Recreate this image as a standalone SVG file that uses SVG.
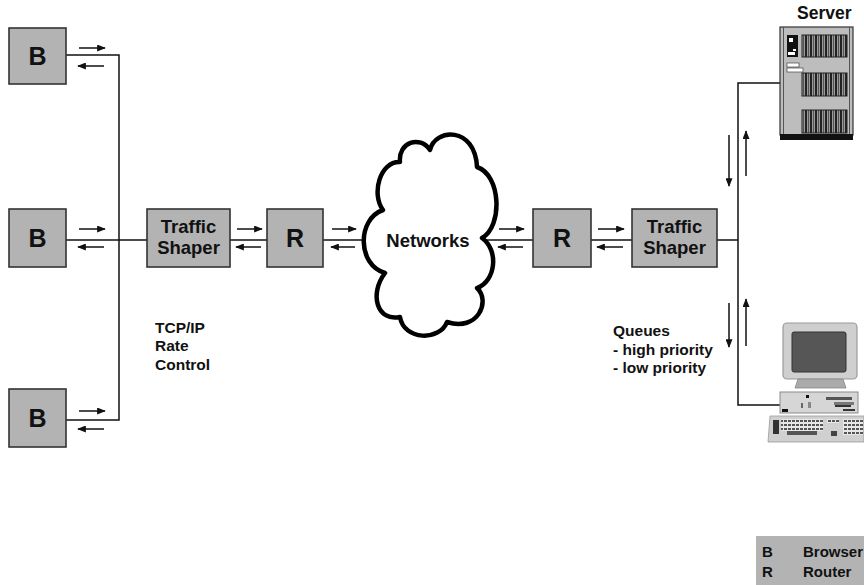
<svg xmlns="http://www.w3.org/2000/svg" width="864" height="585" viewBox="0 0 864 585">
  <style>
    .box { fill: #b3b3b3; stroke: #333; stroke-width: 1.6; }
    .wire { fill: none; stroke: #111; stroke-width: 1.5; }
    .arr { fill: none; stroke: #111; stroke-width: 1.5; marker-end: url(#head); }
    .lbl { font-family: "Liberation Sans", Arial, Helvetica, sans-serif; font-weight: bold; fill: #111; }
    .big { font-size: 25px; text-anchor: middle; }
    .mid { font-size: 18.5px; text-anchor: middle; }
    .small { font-size: 15.5px; }
    .cloud { fill: #fff; stroke: #000; stroke-width: 4.5; stroke-linejoin: round; }
  </style>
  <defs>
    <marker id="head" viewBox="0 0 10 8" refX="9" refY="4" markerWidth="10" markerHeight="7" markerUnits="userSpaceOnUse" orient="auto">
      <path d="M0,0 L10,4 L0,8 Z" fill="#111"/>
    </marker>
    <!-- striped vent grill used on the server cabinet -->
    <pattern id="grill" width="5" height="10" patternUnits="userSpaceOnUse">
      <rect width="5" height="10" fill="#9a9a9a"/>
      <rect x="0" width="2" height="10" fill="#222"/>
      <rect x="3" width="1" height="10" fill="#555"/>
    </pattern>
    <pattern id="keys" width="4" height="4" patternUnits="userSpaceOnUse">
      <rect width="4" height="4" fill="#e8e8e8"/>
      <rect x="0" y="0" width="3" height="2" fill="#555"/>
    </pattern>
  </defs>

  <!-- connectors -->
  <g id="connectors">
    <!-- browser bus -->
    <polyline class="wire" points="66,55 119,55 119,420 66,420"/>
    <line class="wire" x1="66" y1="240" x2="147" y2="240"/>
    <line class="wire" x1="230" y1="240" x2="267" y2="240"/>
    <line class="wire" x1="323" y1="240" x2="365" y2="240"/>
    <line class="wire" x1="481" y1="240" x2="533" y2="240"/>
    <line class="wire" x1="591" y1="240" x2="632" y2="240"/>
    <line class="wire" x1="717" y1="240" x2="738" y2="240"/>
    <!-- server / client bus -->
    <polyline class="wire" points="780,83 738,83 738,405 780,405"/>

    <!-- direction arrows -->
    <line class="arr" x1="79" y1="48" x2="105" y2="48"/>
    <line class="arr" x1="104" y1="66" x2="78" y2="66"/>
    <line class="arr" x1="79" y1="229" x2="105" y2="229"/>
    <line class="arr" x1="104" y1="247" x2="78" y2="247"/>
    <line class="arr" x1="79" y1="411" x2="105" y2="411"/>
    <line class="arr" x1="104" y1="429" x2="78" y2="429"/>

    <line class="arr" x1="237" y1="229" x2="262" y2="229"/>
    <line class="arr" x1="261" y1="247" x2="236" y2="247"/>
    <line class="arr" x1="332" y1="229" x2="356" y2="229"/>
    <line class="arr" x1="355" y1="247" x2="331" y2="247"/>

    <line class="arr" x1="499" y1="229" x2="524" y2="229"/>
    <line class="arr" x1="523" y1="247" x2="498" y2="247"/>
    <line class="arr" x1="598" y1="229" x2="624" y2="229"/>
    <line class="arr" x1="623" y1="247" x2="597" y2="247"/>

    <line class="arr" x1="729" y1="135" x2="729" y2="186"/>
    <line class="arr" x1="746" y1="176" x2="746" y2="131"/>
    <line class="arr" x1="729" y1="303" x2="729" y2="347"/>
    <line class="arr" x1="746" y1="346" x2="746" y2="299"/>
  </g>

  <!-- browsers -->
  <g id="browser-top">
    <rect class="box" x="9" y="28" width="57" height="56"/>
    <text class="lbl big" x="37.5" y="65">B</text>
  </g>
  <g id="browser-mid">
    <rect class="box" x="9" y="209" width="57" height="58"/>
    <text class="lbl big" x="37.5" y="247">B</text>
  </g>
  <g id="browser-bottom">
    <rect class="box" x="9" y="389" width="57" height="58"/>
    <text class="lbl big" x="37.5" y="427">B</text>
  </g>

  <!-- shapers and routers -->
  <g id="shaper-left">
    <rect class="box" x="147" y="209" width="83" height="58"/>
    <text class="lbl mid" x="188.5" y="233">Traffic</text>
    <text class="lbl mid" x="188.5" y="254">Shaper</text>
  </g>
  <g id="router-left">
    <rect class="box" x="267" y="209" width="56" height="58"/>
    <text class="lbl big" x="295" y="247">R</text>
  </g>

  <g id="networks">
    <path class="cloud" d="M400,162 C398,142 420,135 430,150 C435,128 475,126 477,167 C501,175 503,226 482,238 C499,250 496,281 477,288 C491,301 478,332 447,322 C440,341 404,341 400,317 C377,322 369,294 385,273 C357,265 357,219 383,210 C371,194 380,161 400,162 Z"/>
    <text class="lbl mid" x="428" y="247">Networks</text>
  </g>

  <g id="router-right">
    <rect class="box" x="533" y="209" width="58" height="58"/>
    <text class="lbl big" x="562" y="247">R</text>
  </g>
  <g id="shaper-right">
    <rect class="box" x="632" y="209" width="85" height="58"/>
    <text class="lbl mid" x="674.5" y="233">Traffic</text>
    <text class="lbl mid" x="674.5" y="254">Shaper</text>
  </g>

  <!-- server cabinet -->
  <g id="server">
    <text class="lbl" x="797" y="19" font-size="17.5">Server</text>
    <rect x="780" y="27" width="73" height="108" fill="#bdbdbd" stroke="#333" stroke-width="1.2"/>
    <line x1="783.5" y1="27" x2="783.5" y2="135" stroke="#555" stroke-width="1"/>
    <line x1="849.5" y1="27" x2="849.5" y2="135" stroke="#555" stroke-width="1"/>
    <rect x="780" y="134" width="73" height="6" fill="#111"/>
    <rect x="787" y="35" width="11" height="22" fill="#111"/>
    <rect x="789" y="38" width="4" height="4" fill="#fff"/>
    <rect x="793" y="49" width="3" height="2" fill="#fff"/>
    <rect x="788" y="52" width="7" height="3" fill="#fff"/>
    <rect x="787" y="63" width="12" height="4" fill="#fff" stroke="#444" stroke-width="0.7"/>
    <rect x="787" y="68" width="16" height="4" fill="#fff" stroke="#444" stroke-width="0.7"/>
    <rect x="802" y="35" width="45" height="22" fill="url(#grill)" stroke="#222" stroke-width="1"/>
    <rect x="802" y="73" width="45" height="23" fill="url(#grill)" stroke="#222" stroke-width="1"/>
    <rect x="802" y="110" width="45" height="23" fill="url(#grill)" stroke="#222" stroke-width="1"/>
  </g>

  <!-- desktop client -->
  <g id="client">
    <rect x="783" y="323" width="74" height="56" rx="4" fill="#cfcfcf" stroke="#9a9a9a" stroke-width="1.2"/>
    <rect x="792" y="332" width="54" height="40" rx="2" fill="#565656" stroke="#333" stroke-width="1"/>
    <path d="M798,379 L843,379 L846,388 L795,388 Z" fill="#aaa" stroke="#888" stroke-width="0.8"/>
    <rect x="780" y="392" width="78" height="21" fill="#d6d6d6" stroke="#8a8a8a" stroke-width="1"/>
    <rect x="806" y="395" width="3" height="3" fill="#111"/>
    <rect x="801" y="403" width="2" height="5" fill="#666"/>
    <rect x="808" y="402" width="3" height="6" fill="#888"/>
    <rect x="826" y="397" width="26" height="3" fill="#555"/>
    <rect x="834" y="402" width="20" height="3" fill="#777"/>
    <rect x="835" y="405" width="16" height="2" fill="#333"/>
    <rect x="782" y="409" width="6" height="3" fill="#111"/>
    <rect x="843" y="409" width="12" height="2" fill="#333"/>
    <path d="M770,416 L864,416 L864,442 L768,442 Z" fill="#d0d0d0" stroke="#999" stroke-width="0.8"/>
    <rect x="773" y="420" width="6" height="14" fill="#333"/>
    <rect x="781" y="419" width="42" height="12" fill="url(#keys)"/>
    <rect x="787" y="431" width="30" height="4" fill="#555"/>
    <rect x="827" y="419" width="12" height="4" fill="url(#keys)"/>
    <rect x="831" y="431" width="6" height="5" fill="#444"/>
    <rect x="843" y="419" width="20" height="16" fill="url(#keys)"/>
  </g>

  <!-- annotations -->
  <g id="note-tcp">
    <text class="lbl small" x="155" y="333">TCP/IP</text>
    <text class="lbl small" x="155" y="351">Rate</text>
    <text class="lbl small" x="155" y="370">Control</text>
  </g>
  <g id="note-queues">
    <text class="lbl small" x="613" y="336">Queues</text>
    <text class="lbl small" x="613" y="355">- high priority</text>
    <text class="lbl small" x="613" y="373">- low priority</text>
  </g>

  <!-- key -->
  <g id="legend">
    <rect x="756" y="536" width="108" height="49" fill="#b3b3b3"/>
    <text class="lbl" x="762" y="557" font-size="15">B</text>
    <text class="lbl" x="803" y="557" font-size="15">Browser</text>
    <text class="lbl" x="762" y="577" font-size="15">R</text>
    <text class="lbl" x="803" y="577" font-size="15">Router</text>
  </g>
</svg>
